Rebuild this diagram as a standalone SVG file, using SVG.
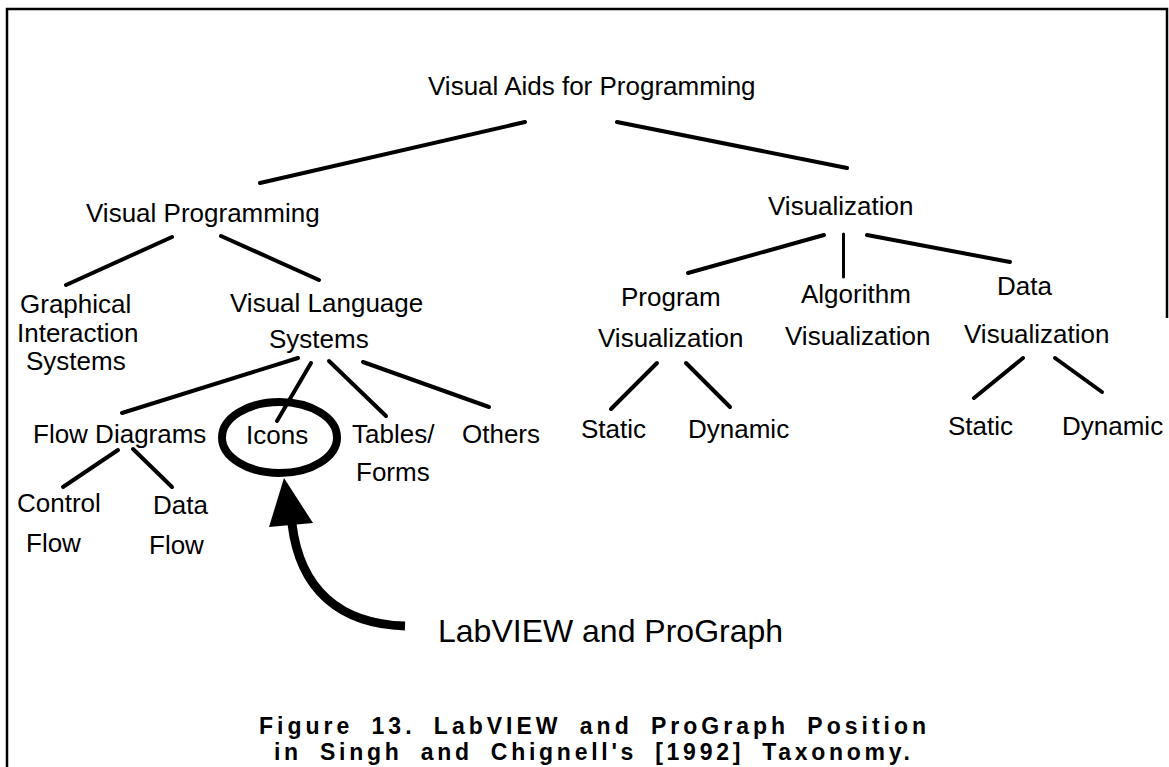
<svg xmlns="http://www.w3.org/2000/svg" width="1169" height="767" viewBox="0 0 1169 767">
<style>
  .lbl { font-family: "Liberation Sans", Arial, sans-serif; font-size: 26px; fill: #000; }
  .big { font-family: "Liberation Sans", Arial, sans-serif; font-size: 32px; fill: #000; }
  .cap { font-family: "Liberation Sans", Arial, sans-serif; font-size: 23px; font-weight: bold; fill: #000; word-spacing: 8px; }
  .edge { stroke: #000; stroke-width: 4; stroke-linecap: round; fill: none; }
  .frame { stroke: #000; stroke-width: 2.5; fill: none; }
</style>
<rect width="1169" height="767" fill="#fff"/>
<path class="frame" d="M 7 767 L 7 9 L 1167 9 L 1167 318"/>

<g id="connectors">
  <line class="edge" x1="525" y1="122" x2="260" y2="183"/>
  <line class="edge" x1="617" y1="122" x2="847" y2="168"/>
  <line class="edge" x1="172" y1="237" x2="66" y2="285"/>
  <line class="edge" x1="221" y1="236" x2="319" y2="280"/>
  <line class="edge" x1="298" y1="358" x2="122" y2="413"/>
  <line class="edge" x1="311" y1="363" x2="277" y2="421"/>
  <line class="edge" x1="329" y1="361" x2="386" y2="416"/>
  <line class="edge" x1="363" y1="362" x2="489" y2="407"/>
  <line class="edge" x1="118" y1="450" x2="63" y2="487"/>
  <line class="edge" x1="133" y1="449" x2="172" y2="487"/>
  <line class="edge" x1="824" y1="235" x2="688" y2="273"/>
  <line class="edge" x1="843.5" y1="234" x2="843.5" y2="277" style="stroke-width:3"/>
  <line class="edge" x1="867" y1="235" x2="1010" y2="262"/>
  <line class="edge" x1="657" y1="363" x2="611" y2="409"/>
  <line class="edge" x1="686" y1="363" x2="730" y2="407"/>
  <line class="edge" x1="1023" y1="358" x2="974" y2="398"/>
  <line class="edge" x1="1055" y1="358" x2="1102" y2="392"/>
  <g id="pointer">
    <path d="M 405 626 C 340 624, 300 590, 292 524" stroke="#000" stroke-width="9" fill="none"/>
    <polygon points="284,478 269,527 313,523" fill="#000"/>
  </g>
</g>

<g id="n-aids"><text class="lbl" x="428" y="95">Visual Aids for Programming</text></g>
<g id="n-vp"><text class="lbl" x="86" y="222">Visual Programming</text></g>
<g id="n-vis"><text class="lbl" x="768" y="215">Visualization</text></g>
<g id="n-gis">
  <text class="lbl" x="20" y="313">Graphical</text>
  <text class="lbl" x="17" y="342">Interaction</text>
  <text class="lbl" x="26" y="370">Systems</text>
</g>
<g id="n-vls">
  <text class="lbl" x="230" y="312">Visual Language</text>
  <text class="lbl" x="269" y="348">Systems</text>
</g>
<g id="n-flow"><text class="lbl" x="33" y="443">Flow Diagrams</text></g>
<g id="n-icons">
  <ellipse cx="279.5" cy="437.5" rx="57.5" ry="35.5" fill="none" stroke="#000" stroke-width="8"/>
  <text class="lbl" x="246" y="444">Icons</text>
</g>
<g id="n-tables">
  <text class="lbl" x="352" y="443">Tables/</text>
  <text class="lbl" x="356" y="481">Forms</text>
</g>
<g id="n-others"><text class="lbl" x="462" y="443">Others</text></g>
<g id="n-control">
  <text class="lbl" x="17" y="512">Control</text>
  <text class="lbl" x="26" y="552">Flow</text>
</g>
<g id="n-dataflow">
  <text class="lbl" x="153" y="514">Data</text>
  <text class="lbl" x="149" y="554">Flow</text>
</g>
<g id="n-pv">
  <text class="lbl" x="621" y="306">Program</text>
  <text class="lbl" x="598" y="347">Visualization</text>
</g>
<g id="n-av">
  <text class="lbl" x="801" y="303">Algorithm</text>
  <text class="lbl" x="785" y="345">Visualization</text>
</g>
<g id="n-dv">
  <text class="lbl" x="997" y="295">Data</text>
  <text class="lbl" x="964" y="343">Visualization</text>
</g>
<g id="n-pv-static"><text class="lbl" x="581" y="438">Static</text></g>
<g id="n-pv-dynamic"><text class="lbl" x="688" y="438">Dynamic</text></g>
<g id="n-dv-static"><text class="lbl" x="948" y="435">Static</text></g>
<g id="n-dv-dynamic"><text class="lbl" x="1062" y="435">Dynamic</text></g>
<g id="n-labview"><text class="big" x="438" y="642">LabVIEW and ProGraph</text></g>

<g id="caption">
  <text class="cap" x="259" y="734" textLength="667" lengthAdjust="spacing">Figure 13.  LabVIEW and ProGraph Position</text>
  <text class="cap" x="274" y="760" textLength="636" lengthAdjust="spacing">in Singh and Chignell's [1992] Taxonomy.</text>
</g>
</svg>
